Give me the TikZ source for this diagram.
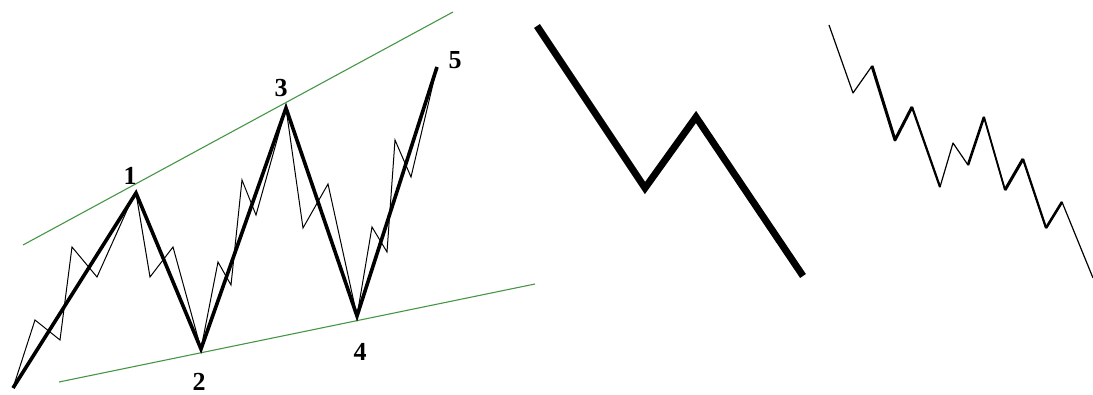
\documentclass[tikz,border=0pt]{standalone}
\usepackage{fontspec}
\setmainfont{Liberation Serif}
\usepackage{xcolor}
\usepackage{tikz}
\usetikzlibrary{calc}
\definecolor{trendgreen}{RGB}{70,150,70}

\begin{document}
\begin{tikzpicture}[x=1pt,y=-1pt,
		wave/.style={line width=3.6pt},
		subwave/.style={line width=1pt},
		trend/.style={trendgreen,line width=1.1pt},
		lbl/.style={font=\fontsize{26}{26}\selectfont\bfseries,inner sep=0pt}]
			\useasboundingbox (0,0) rectangle (1093,395);
			
			% wedge: main points
			\coordinate (W0) at (13,388);
			\coordinate (W1) at (136,193);
			\coordinate (W2) at (201,349);
			\coordinate (W3) at (286,108);
			\coordinate (W4) at (357,316);
			\coordinate (W5) at (437,67);
			
			\draw[trend] (23,245)--(453,12);
			\draw[trend] (59,382)--(535,284);
			
			\draw[subwave] (W0)--(35,320)--(60,340)--(72,247)--(97,277)--(128,208)--(W1)
			--(150,277)--(173,247)--(W2)
			--(218,262)--(231,285)--(242,180)--(256,215)--(W3)
			--(303,228)--(328,184)--(W4)
			--(372,227)--(387,252)--(395,140)--(411,177)--(W5);
			
			\draw[wave] (W0)--(W1)--(W2)--(W3)--(W4)--(W5);
			
			\node[lbl] (n1) at (130,176) {1};
			\node[lbl] (n2) at (199,382) {2};
			\node[lbl] (n3) at (281,88) {3};
			\node[lbl] (n4) at (360,352) {4};
			\node[lbl] (n5) at (455,60) {5};
			
			% single zigzag
			\draw[line width=7pt] (537,26)--(645,188)--(696,117)--(803,276);
			
			% broken down into subwaves
			\coordinate (R0) at (829,25);
			\coordinate (R1) at (853,93);
			\coordinate (R2) at (872,66);
			\coordinate (R3) at (895,140);
			\coordinate (R4) at (912,107);
			\coordinate (R5) at (940,187);
			\coordinate (R6) at (953,143);
			\coordinate (R7) at (968,165);
			\coordinate (R8) at (984,117);
			\coordinate (R9) at (1005,190);
			\coordinate (R10) at (1023,159);
			\coordinate (R11) at (1046,228);
			\coordinate (R12) at (1062,202);
			\coordinate (R13) at (1093,278);
			
			\draw[line width=1.2pt,line join=round] (R0)--(R1)--(R2)--(R3)--(R4)--(R5)--(R6)--(R7)--(R8)--(R9)--(R10)--(R11)--(R12)--(R13);
			\draw[line width=3pt,line join=round] (R2)--(R3)--(R4);
			\draw[line width=2.2pt] (R4)--(R5);
			\draw[line width=2.6pt] (R7)--(R8);
			\draw[line width=1.8pt] (R8)--(R9);
			\draw[line width=3pt,line join=round] (R9)--(R10);
			\draw[line width=2.2pt] (R10)--(R11);
			\draw[line width=2.6pt] (R11)--(R12);
		\end{tikzpicture}
\end{document}
